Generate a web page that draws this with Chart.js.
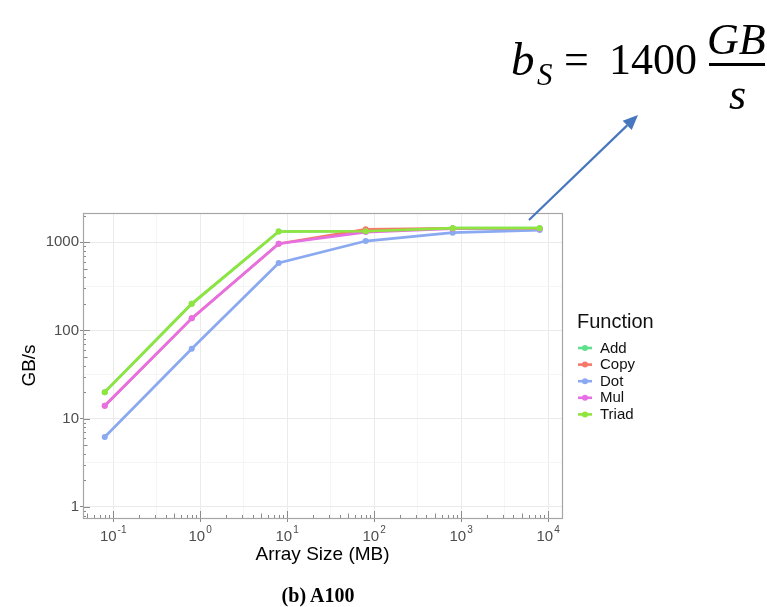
<!DOCTYPE html>
<html><head><meta charset="utf-8">
<script src="https://cdn.jsdelivr.net/npm/chart.js@4.4.1/dist/chart.umd.min.js"></script>
<style>
html,body{margin:0;padding:0;background:#fff;}
#wrap{position:relative;width:767px;height:607px;overflow:hidden;background:#fff;}
canvas{position:absolute;left:0;top:0;}
.t{position:absolute;font-family:"Liberation Serif","Times New Roman",serif;line-height:1;white-space:nowrap;color:#000;}
</style></head><body>
<div id="wrap">
<canvas id="c" width="767" height="607"></canvas>
<span class="t" style="font-size:47px;font-style:italic;left:511px;top:35.5px">b</span>
<span class="t" style="font-size:31px;font-style:italic;left:537px;top:59px">S</span>
<span class="t" style="font-size:44px;left:564px;top:38px">=</span>
<span class="t" style="font-size:44px;left:609px;top:38px">1400</span>
<div style="position:absolute;left:709px;top:63px;width:56px;height:2.5px;background:#000"></div>
<span class="t" style="font-size:44px;font-style:italic;left:707px;top:18px">GB</span>
<span class="t" style="font-size:44px;font-style:italic;left:729px;top:73px">s</span>
<div class="t" style="font-size:20px;font-weight:bold;left:218px;width:200px;text-align:center;top:585px">(b) A100</div>
</div>
<script>
const arraySizesMB = [0.08, 0.8, 8, 80, 800, 8000];
const addGBs   = [20, 200, 1320, 1330, 1440, 1440];
const copyGBs  = [14, 137, 960, 1400, 1430, 1430];
const dotGBs   = [6.2, 62, 580, 1030, 1280, 1370];
const mulGBs   = [14, 137, 960, 1300, 1420, 1420];
const triadGBs = [20, 200, 1320, 1330, 1440, 1440];
const seriesNames = ['Add', 'Copy', 'Dot', 'Mul', 'Triad'];
const seriesColors = ['#5ee08c', '#f4796b', '#8aa9f0', '#e56fe3', '#8fe53e'];
const xTickValues = [0.1, 1, 10, 100, 1000, 10000];
const xTickBases = ['10', '10', '10', '10', '10', '10'];
const xTickExponents = ['-1', '0', '1', '2', '3', '4'];
const yTickValues = [1, 10, 100, 1000];
const yTickLabels = ['1', '10', '100', '1000'];
const arrowStart = {x: 6030, y: 1780};   // data coords
const arrowTip = {x: 638, y: 115};       // page pixels (formula)

const seriesValues = [addGBs, copyGBs, dotGBs, mulGBs, triadGBs];
const SQ = Math.sqrt(10);

function withHalves(vals, min, max) {
  const out = [];
  vals.forEach(v => {
    if (v >= min && v <= max) out.push(v);
    const h = v * SQ;
    if (h >= min && h <= max) out.push(h);
  });
  const lo = vals[0] / SQ;
  if (lo >= min) out.unshift(lo);
  return out;
}
function isMajor(v, list) { return list.indexOf(v) >= 0; }

const datasets = seriesNames.map((name, i) => ({
  label: name,
  data: arraySizesMB.map((x, j) => ({x: x, y: seriesValues[i][j]})),
  borderColor: seriesColors[i],
  backgroundColor: seriesColors[i],
  borderWidth: 2.7,
  pointRadius: 3,
  pointBorderWidth: 0,
  pointHoverRadius: 3,
  tension: 0,
  order: seriesNames.length - i
}));

const FONT = '"Liberation Sans", Arial, sans-serif';

const decor = {
  id: 'decor',
  afterDraw(chart) {
    const ctx = chart.ctx, a = chart.chartArea;
    const xs = chart.scales.x, ys = chart.scales.y;
    ctx.save();
    // log ticks
    ctx.strokeStyle = '#8a8a8a';
    ctx.lineWidth = 1;
    for (let k = -2; k <= 4; k++) {
      for (let m = 1; m <= 9; m++) {
        const v = m * Math.pow(10, k);
        const len = m === 1 ? 7 : (m === 5 ? 4.5 : 3);
        if (v >= xs.min && v <= xs.max) {
          const px = Math.round(xs.getPixelForValue(v)) + 0.5;
          ctx.beginPath(); ctx.moveTo(px, a.bottom); ctx.lineTo(px, a.bottom - len); ctx.stroke();
        }
        if (v >= ys.min && v <= ys.max) {
          const py = Math.round(ys.getPixelForValue(v)) + 0.5;
          ctx.beginPath(); ctx.moveTo(a.left, py); ctx.lineTo(a.left + len, py); ctx.stroke();
        }
      }
    }
    // panel border
    ctx.strokeStyle = '#a6a6a6';
    ctx.lineWidth = 1.2;
    ctx.strokeRect(Math.round(a.left) + 0.5, Math.round(a.top) + 0.5, Math.round(a.right - a.left), Math.round(a.bottom - a.top));
    // x tick labels with superscript exponents
    ctx.fillStyle = '#4d4d4d';
    ctx.textBaseline = 'alphabetic';
    ctx.textAlign = 'left';
    xTickValues.forEach((v, i) => {
      const px = xs.getPixelForValue(v);
      ctx.font = '15px ' + FONT;
      const wb = ctx.measureText(xTickBases[i]).width;
      ctx.font = '10px ' + FONT;
      const we = ctx.measureText(xTickExponents[i]).width;
      const x0 = px - (wb + 1 + we) / 2;
      ctx.font = '15px ' + FONT;
      ctx.fillText(xTickBases[i], x0, a.bottom + 23);
      ctx.font = '10px ' + FONT;
      ctx.fillText(xTickExponents[i], x0 + wb + 1, a.bottom + 15);
    });
    // legend
    ctx.fillStyle = '#111';
    ctx.textBaseline = 'middle';
    ctx.font = '20px ' + FONT;
    ctx.fillText('Function', 577, 322);
    ctx.font = '15px ' + FONT;
    seriesNames.forEach((n, i) => {
      const y = 348 + i * 16.6;
      ctx.strokeStyle = seriesColors[i];
      ctx.lineWidth = 2.6;
      ctx.beginPath(); ctx.moveTo(578, y); ctx.lineTo(592, y); ctx.stroke();
      ctx.fillStyle = seriesColors[i];
      ctx.beginPath(); ctx.arc(585, y, 3, 0, Math.PI * 2); ctx.fill();
      ctx.fillStyle = '#111';
      ctx.fillText(n, 600, y + 0.5);
    });
    // arrow
    const sx = xs.getPixelForValue(arrowStart.x), sy = ys.getPixelForValue(arrowStart.y);
    const tx = arrowTip.x, ty = arrowTip.y;
    const ang = Math.atan2(ty - sy, tx - sx);
    const hl = 15, hw = 6.5;
    const bx = tx - hl * Math.cos(ang), by = ty - hl * Math.sin(ang);
    ctx.strokeStyle = '#4777bf';
    ctx.fillStyle = '#4777bf';
    ctx.lineWidth = 2.2;
    ctx.beginPath(); ctx.moveTo(sx, sy); ctx.lineTo(bx, by); ctx.stroke();
    ctx.beginPath();
    ctx.moveTo(tx, ty);
    ctx.lineTo(bx + hw * Math.sin(ang), by - hw * Math.cos(ang));
    ctx.lineTo(bx - hw * Math.sin(ang), by + hw * Math.cos(ang));
    ctx.closePath(); ctx.fill();
    ctx.restore();
  }
};

const tickFont = {family: FONT, size: 15};
const titleFont = {family: FONT, size: 19};

new Chart(document.getElementById('c'), {
  type: 'line',
  data: {datasets: datasets},
  plugins: [decor],
  options: {
    responsive: false,
    animation: false,
    layout: {padding: {left: 0, right: 205, top: 213, bottom: 40}},
    plugins: {legend: {display: false}, tooltip: {enabled: false}},
    scales: {
      x: {
        type: 'logarithmic',
        min: 0.045, max: 14450,
        afterBuildTicks(scale) { scale.ticks = withHalves(xTickValues, scale.min, scale.max).map(v => ({value: v})); },
        afterFit(scale) { scale.height = 49; },
        border: {display: false},
        grid: {
          color: c => isMajor(c.tick.value, xTickValues) ? '#ebebeb' : '#f5f5f5',
          tickColor: c => isMajor(c.tick.value, xTickValues) ? '#8a8a8a' : 'rgba(0,0,0,0)',
          tickLength: 4, lineWidth: 1
        },
        ticks: {display: false, autoSkip: false, maxRotation: 0},
        title: {display: true, text: 'Array Size (MB)', font: titleFont, color: '#000', padding: {top: 0, bottom: 1}}
      },
      y: {
        type: 'logarithmic',
        min: 0.75, max: 2140,
        afterBuildTicks(scale) { scale.ticks = withHalves(yTickValues, scale.min, scale.max).map(v => ({value: v})); },
        afterFit(scale) { scale.width = 83; },
        border: {display: false},
        grid: {
          color: c => isMajor(c.tick.value, yTickValues) ? '#ebebeb' : '#f5f5f5',
          tickColor: c => isMajor(c.tick.value, yTickValues) ? '#8a8a8a' : 'rgba(0,0,0,0)',
          tickLength: 3, lineWidth: 1
        },
        ticks: {
          autoSkip: false, font: tickFont, color: '#4d4d4d', padding: 1,
          callback: v => { const i = yTickValues.indexOf(v); return i >= 0 ? yTickLabels[i] : ''; }
        },
        title: {display: true, text: 'GB/s', font: titleFont, color: '#000', padding: {top: 18, bottom: 0}}
      }
    }
  }
});
</script>
</body></html>
